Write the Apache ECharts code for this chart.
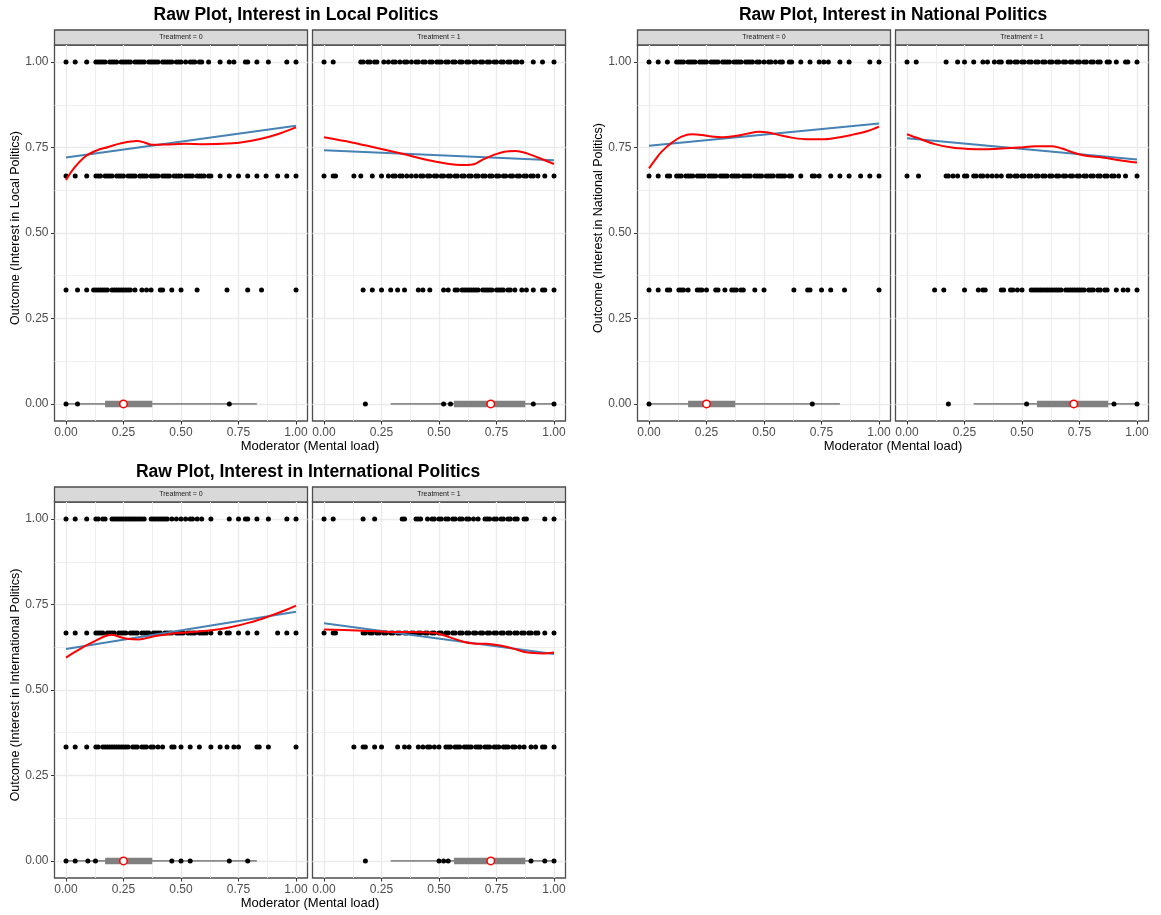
<!DOCTYPE html>
<html>
<head>
<meta charset="utf-8">
<script src="https://cdn.jsdelivr.net/npm/echarts@6/dist/echarts.min.js"></script>
<style>
html, body { margin: 0; background: #fff; }
#chart { width: 1161px; height: 915px; }
</style>
</head>
<body>
<div id="chart"></div>
<script>
// tick labels
const majorTicks = [0, 0.25, 0.5, 0.75, 1]
const minorTicks = [0.125, 0.375, 0.625, 0.875]
const treatments = ['Treatment = 0', 'Treatment = 1']

// moderator summaries (min, q1, median, q3, max)
const boxT0 = [0, 0.17, 0.25, 0.375, 0.83]
const boxT1 = [0.29, 0.565, 0.725, 0.875, 1]

// --- Local politics ---
const localT0Y100 = [0,0.04,0.09,0.13,0.14,0.15,0.16,0.17,0.19,0.2,0.21,0.22,0.24,0.25,0.26,0.27,0.28,0.3,0.31,0.32,0.33,0.34,0.36,0.37,0.38,0.39,0.4,0.42,0.43,0.44,0.45,0.46,0.48,0.49,0.5,0.52,0.54,0.55,0.56,0.58,0.59,0.62,0.67,0.71,0.73,0.78,0.79,0.83,0.88,0.96,1]
const localT0Y067 = [0,0.04,0.09,0.13,0.14,0.15,0.17,0.18,0.19,0.2,0.22,0.23,0.24,0.25,0.27,0.28,0.29,0.3,0.32,0.33,0.34,0.35,0.37,0.38,0.39,0.4,0.42,0.43,0.44,0.45,0.47,0.48,0.49,0.5,0.52,0.53,0.54,0.55,0.57,0.58,0.59,0.6,0.62,0.63,0.67,0.71,0.75,0.79,0.83,0.87,0.92,0.96,1]
const localT0Y033 = [0,0.05,0.09,0.12,0.13,0.14,0.15,0.16,0.17,0.18,0.2,0.21,0.22,0.23,0.24,0.25,0.26,0.27,0.28,0.3,0.33,0.35,0.37,0.41,0.42,0.46,0.5,0.57,0.7,0.79,0.85,1]
const localT0Y000 = [0,0.05,0.71]
const localT1Y100 = [0,0.04,0.16,0.17,0.19,0.2,0.22,0.23,0.26,0.28,0.3,0.31,0.33,0.35,0.36,0.38,0.4,0.41,0.43,0.44,0.46,0.47,0.49,0.5,0.51,0.53,0.54,0.56,0.57,0.59,0.6,0.62,0.63,0.65,0.66,0.68,0.69,0.71,0.72,0.74,0.75,0.77,0.78,0.8,0.81,0.83,0.84,0.86,0.91,0.95,1]
const localT1Y067 = [0,0.04,0.05,0.13,0.16,0.21,0.25,0.28,0.3,0.31,0.33,0.34,0.36,0.38,0.4,0.42,0.43,0.45,0.46,0.48,0.49,0.51,0.52,0.54,0.55,0.57,0.58,0.6,0.61,0.63,0.64,0.66,0.67,0.69,0.7,0.72,0.73,0.75,0.76,0.78,0.79,0.81,0.82,0.84,0.85,0.87,0.88,0.9,0.91,0.93,0.96,1]
const localT1Y033 = [0.17,0.21,0.25,0.29,0.32,0.35,0.41,0.43,0.46,0.52,0.54,0.57,0.58,0.6,0.61,0.62,0.63,0.64,0.65,0.66,0.67,0.69,0.7,0.71,0.72,0.73,0.75,0.76,0.77,0.78,0.8,0.81,0.83,0.86,0.88,0.91,0.95,0.96,1]
const localT1Y000 = [0.18,0.52,0.55,0.91,1]
const localFitT0 = [0.721, 0.814]
const localFitT1 = [0.742, 0.713]
const localLoessT0X = [0,0.035,0.084,0.132,0.18,0.244,0.309,0.341,0.373,0.437,0.518,0.598,0.678,0.759,0.839,0.92,1]
const localLoessT0Y = [0.655,0.69,0.724,0.741,0.751,0.763,0.769,0.765,0.758,0.759,0.761,0.76,0.761,0.765,0.774,0.789,0.809]
const localLoessT1X = [0,0.121,0.202,0.364,0.445,0.526,0.607,0.655,0.688,0.736,0.785,0.833,0.882,0.93,1]
const localLoessT1Y = [0.78,0.765,0.753,0.728,0.714,0.704,0.699,0.702,0.714,0.728,0.738,0.74,0.733,0.721,0.702]

// --- National politics ---
const nationalT0Y100 = [0,0.04,0.08,0.12,0.13,0.14,0.15,0.17,0.18,0.19,0.2,0.22,0.23,0.24,0.25,0.27,0.28,0.29,0.3,0.32,0.33,0.34,0.35,0.37,0.38,0.39,0.4,0.42,0.43,0.44,0.45,0.47,0.48,0.5,0.52,0.53,0.55,0.57,0.58,0.61,0.62,0.66,0.7,0.74,0.76,0.78,0.83,0.87,0.96,1]
const nationalT0Y067 = [0,0.04,0.08,0.09,0.12,0.13,0.14,0.16,0.17,0.18,0.19,0.21,0.22,0.23,0.24,0.26,0.27,0.28,0.29,0.31,0.32,0.33,0.34,0.36,0.37,0.38,0.39,0.41,0.42,0.43,0.44,0.46,0.47,0.48,0.49,0.51,0.52,0.53,0.54,0.56,0.57,0.58,0.59,0.61,0.62,0.66,0.71,0.72,0.74,0.79,0.83,0.87,0.92,0.96,1]
const nationalT0Y033 = [0,0.04,0.08,0.09,0.13,0.14,0.15,0.17,0.21,0.22,0.23,0.25,0.29,0.3,0.33,0.36,0.37,0.38,0.4,0.41,0.46,0.5,0.63,0.69,0.7,0.75,0.79,0.85,1]
const nationalT0Y000 = [0,0.71]
const nationalT1Y100 = [0,0.04,0.17,0.22,0.25,0.29,0.33,0.35,0.38,0.4,0.41,0.44,0.45,0.47,0.48,0.5,0.51,0.53,0.54,0.56,0.57,0.59,0.6,0.62,0.63,0.65,0.66,0.68,0.69,0.71,0.72,0.74,0.75,0.77,0.78,0.8,0.81,0.83,0.84,0.87,0.88,0.91,0.95,0.96,1]
const nationalT1Y067 = [0,0.05,0.17,0.18,0.2,0.22,0.25,0.26,0.29,0.3,0.32,0.33,0.35,0.37,0.39,0.41,0.44,0.45,0.47,0.48,0.5,0.51,0.53,0.54,0.56,0.57,0.59,0.6,0.62,0.63,0.65,0.66,0.68,0.69,0.71,0.72,0.74,0.75,0.77,0.78,0.8,0.81,0.83,0.84,0.86,0.87,0.89,0.9,0.92,0.95,1]
const nationalT1Y033 = [0.12,0.16,0.25,0.31,0.33,0.34,0.41,0.42,0.45,0.46,0.48,0.5,0.54,0.55,0.56,0.57,0.58,0.59,0.6,0.61,0.62,0.63,0.64,0.65,0.66,0.67,0.69,0.7,0.71,0.72,0.73,0.74,0.75,0.76,0.77,0.79,0.8,0.81,0.83,0.84,0.86,0.87,0.91,0.94,0.96,1]
const nationalT1Y000 = [0.18,0.52,0.9,1]
const nationalFitT0 = [0.755, 0.82]
const nationalFitT1 = [0.777, 0.715]
const nationalLoessT0X = [0,0.026,0.055,0.099,0.142,0.186,0.229,0.272,0.316,0.374,0.432,0.475,0.519,0.562,0.62,0.693,0.751,0.809,0.881,0.954,1]
const nationalLoessT0Y = [0.689,0.713,0.738,0.764,0.782,0.789,0.787,0.782,0.78,0.784,0.791,0.796,0.794,0.787,0.779,0.774,0.774,0.778,0.787,0.799,0.811]
const nationalLoessT1X = [0,0.049,0.122,0.195,0.268,0.341,0.413,0.486,0.559,0.632,0.675,0.719,0.777,0.85,0.923,1]
const nationalLoessT1Y = [0.789,0.777,0.76,0.75,0.746,0.745,0.747,0.75,0.754,0.754,0.747,0.736,0.726,0.721,0.713,0.706]

// --- International politics ---
const internationalT0Y100 = [0,0.04,0.09,0.13,0.14,0.16,0.17,0.2,0.21,0.22,0.23,0.24,0.25,0.26,0.27,0.28,0.29,0.3,0.31,0.32,0.33,0.34,0.37,0.38,0.39,0.4,0.41,0.42,0.43,0.44,0.46,0.48,0.5,0.52,0.54,0.55,0.57,0.59,0.63,0.71,0.75,0.78,0.79,0.83,0.88,0.96,1]
const internationalT0Y067 = [0,0.04,0.09,0.13,0.14,0.15,0.16,0.18,0.19,0.2,0.21,0.23,0.24,0.25,0.26,0.28,0.29,0.3,0.31,0.33,0.34,0.35,0.36,0.38,0.39,0.4,0.41,0.43,0.44,0.45,0.46,0.48,0.49,0.5,0.51,0.53,0.54,0.55,0.56,0.58,0.59,0.6,0.61,0.63,0.67,0.7,0.71,0.75,0.79,0.83,0.92,0.96,1]
const internationalT0Y033 = [0,0.04,0.09,0.13,0.14,0.16,0.17,0.18,0.19,0.2,0.21,0.22,0.23,0.24,0.25,0.26,0.27,0.29,0.3,0.31,0.33,0.34,0.35,0.37,0.38,0.4,0.42,0.46,0.47,0.5,0.54,0.58,0.63,0.67,0.7,0.73,0.75,0.83,0.84,0.88,1]
const internationalT0Y000 = [0,0.04,0.095,0.128,0.46,0.5,0.54,0.71,0.79]
const internationalT1Y100 = [0,0.04,0.17,0.22,0.34,0.35,0.4,0.41,0.42,0.45,0.47,0.48,0.5,0.51,0.53,0.54,0.56,0.57,0.59,0.6,0.62,0.63,0.65,0.67,0.7,0.71,0.72,0.74,0.75,0.77,0.78,0.8,0.81,0.83,0.84,0.87,0.88,0.96,1]
const internationalT1Y067 = [0,0.04,0.05,0.17,0.18,0.2,0.21,0.23,0.24,0.26,0.27,0.29,0.3,0.32,0.33,0.35,0.36,0.38,0.39,0.41,0.42,0.44,0.45,0.47,0.48,0.5,0.51,0.53,0.54,0.56,0.57,0.59,0.6,0.62,0.63,0.65,0.66,0.68,0.69,0.71,0.72,0.74,0.75,0.77,0.78,0.8,0.81,0.83,0.84,0.86,0.87,0.89,0.9,0.92,0.93,0.96,1]
const internationalT1Y033 = [0.13,0.17,0.18,0.22,0.25,0.32,0.35,0.37,0.41,0.43,0.45,0.46,0.48,0.5,0.53,0.54,0.55,0.57,0.58,0.59,0.61,0.62,0.63,0.64,0.66,0.67,0.68,0.7,0.71,0.72,0.74,0.75,0.76,0.78,0.79,0.8,0.82,0.83,0.85,0.87,0.9,0.92,0.95,0.96,1]
const internationalT1Y000 = [0.18,0.5,0.52,0.54,0.9,0.96,1]
const internationalFitT0 = [0.62, 0.729]
const internationalFitT1 = [0.695, 0.605]
const internationalLoessT0X = [0,0.041,0.084,0.128,0.172,0.2,0.23,0.273,0.317,0.375,0.448,0.535,0.622,0.709,0.797,0.884,0.956,1]
const internationalLoessT0Y = [0.595,0.612,0.629,0.644,0.658,0.662,0.656,0.649,0.648,0.656,0.664,0.669,0.674,0.683,0.697,0.716,0.734,0.747]
const internationalLoessT1X = [0,0.142,0.287,0.432,0.49,0.548,0.606,0.649,0.707,0.765,0.823,0.867,0.91,0.954,1]
const internationalLoessT1Y = [0.677,0.674,0.67,0.669,0.666,0.654,0.641,0.636,0.635,0.63,0.621,0.612,0.608,0.607,0.61]

const FONT = '"Liberation Sans", Arial, Helvetica, sans-serif'
const FACET_W = 253
const FACET_H = 376
const STRIP_H = 15

const panels = [
    {
        title: 'Raw Plot, Interest in Local Politics',
        yName: 'Outcome (Interest in Local Politics)',
        lefts: [54.5, 312.5], top: 45, titleX: 296, yNameX: 16,
        facets: [
            { rows: [[1, localT0Y100], [0.6667, localT0Y067], [0.3333, localT0Y033], [0, localT0Y000]], box: boxT0, fit: localFitT0, lx: localLoessT0X, ly: localLoessT0Y },
            { rows: [[1, localT1Y100], [0.6667, localT1Y067], [0.3333, localT1Y033], [0, localT1Y000]], box: boxT1, fit: localFitT1, lx: localLoessT1X, ly: localLoessT1Y },
        ],
    },
    {
        title: 'Raw Plot, Interest in National Politics',
        yName: 'Outcome (Interest in National Politics)',
        lefts: [637.5, 895.5], top: 45, titleX: 893, yNameX: 599,
        facets: [
            { rows: [[1, nationalT0Y100], [0.6667, nationalT0Y067], [0.3333, nationalT0Y033], [0, nationalT0Y000]], box: boxT0, fit: nationalFitT0, lx: nationalLoessT0X, ly: nationalLoessT0Y },
            { rows: [[1, nationalT1Y100], [0.6667, nationalT1Y067], [0.3333, nationalT1Y033], [0, nationalT1Y000]], box: boxT1, fit: nationalFitT1, lx: nationalLoessT1X, ly: nationalLoessT1Y },
        ],
    },
    {
        title: 'Raw Plot, Interest in International Politics',
        yName: 'Outcome (Interest in International Politics)',
        lefts: [54.5, 312.5], top: 502, titleX: 308, yNameX: 16,
        facets: [
            { rows: [[1, internationalT0Y100], [0.6667, internationalT0Y067], [0.3333, internationalT0Y033], [0, internationalT0Y000]], box: boxT0, fit: internationalFitT0, lx: internationalLoessT0X, ly: internationalLoessT0Y },
            { rows: [[1, internationalT1Y100], [0.6667, internationalT1Y067], [0.3333, internationalT1Y033], [0, internationalT1Y000]], box: boxT1, fit: internationalFitT1, lx: internationalLoessT1X, ly: internationalLoessT1Y },
        ],
    },
]

const grids = []
const xAxes = []
const yAxes = []
const series = []
const graphics = []

const valueAxis = (gridIndex, extra) => Object.assign({
    gridIndex,
    type: 'value',
    min: -0.05,
    max: 1.05,
    axisLine: { show: false, onZero: false },
}, extra)

const centred = { align: 'center', verticalAlign: 'middle', textAlign: 'center', textVerticalAlign: 'middle' }

panels.forEach((panel, p) => {
    const midX = (panel.lefts[0] + panel.lefts[1] + FACET_W) / 2
    graphics.push({
        type: 'text', x: panel.titleX, y: panel.top - 30,
        style: Object.assign({ text: panel.title, font: 'bold 17.5px ' + FONT, fill: '#000' }, centred),
    })
    graphics.push({
        type: 'text', x: midX, y: panel.top + FACET_H + 25,
        style: Object.assign({ text: 'Moderator (Mental load)', font: '13px ' + FONT, fill: '#000' }, centred),
    })
    graphics.push({
        type: 'text', x: panel.yNameX, y: panel.top + FACET_H / 2 - 5, rotation: Math.PI / 2,
        style: Object.assign({ text: panel.yName, font: '12.5px ' + FONT, fill: '#000' }, centred),
    })

    panel.facets.forEach((facet, t) => {
        const g = p * 2 + t
        const left = panel.lefts[t]
        grids.push({
            left, top: panel.top, width: FACET_W, height: FACET_H,
            show: true, borderColor: '#4d4d4d', borderWidth: 1.3, backgroundColor: '#ffffff',
            containLabel: false, outerBoundsMode: 'none',
        })
        graphics.push({
            type: 'rect', shape: { x: left, y: panel.top - STRIP_H, width: FACET_W, height: STRIP_H },
            style: { fill: '#d9d9d9', stroke: '#4d4d4d', lineWidth: 1.3 },
        })
        graphics.push({
            type: 'text', x: left + FACET_W / 2, y: panel.top - STRIP_H / 2,
            style: Object.assign({ text: treatments[t], font: '7px ' + FONT, fill: '#1a1a1a' }, centred),
        })

        // major + minor x axes
        xAxes.push(valueAxis(g, {
            position: 'bottom',
            axisTick: { show: true, customValues: majorTicks, length: 3.5, lineStyle: { color: '#333333', width: 1 } },
            axisLabel: { customValues: majorTicks, formatter: v => v.toFixed(2), color: '#4d4d4d', fontSize: 12, fontFamily: FONT, margin: 6 },
            splitLine: { show: true, lineStyle: { color: '#ebebeb', width: 1.4 } },
        }))
        xAxes.push(valueAxis(g, {
            position: 'top',
            axisTick: { show: false, customValues: minorTicks },
            axisLabel: { show: false, customValues: minorTicks },
            splitLine: { show: true, lineStyle: { color: '#ebebeb', width: 0.8 } },
        }))
        // major + minor y axes
        yAxes.push(valueAxis(g, {
            position: 'left',
            axisTick: { show: t === 0, customValues: majorTicks, length: 3.5, lineStyle: { color: '#333333', width: 1 } },
            axisLabel: { show: t === 0, customValues: majorTicks, formatter: v => v.toFixed(2), color: '#4d4d4d', fontSize: 12, fontFamily: FONT, margin: 6 },
            splitLine: { show: true, lineStyle: { color: '#ebebeb', width: 1.4 } },
        }))
        yAxes.push(valueAxis(g, {
            position: 'right',
            axisTick: { show: false, customValues: minorTicks },
            axisLabel: { show: false, customValues: minorTicks },
            splitLine: { show: true, lineStyle: { color: '#ebebeb', width: 0.8 } },
        }))

        const axisRef = { xAxisIndex: g * 2, yAxisIndex: g * 2 }
        const points = []
        facet.rows.forEach(([level, xs]) => xs.forEach(x => points.push([x, level])))
        // moderator interval first, observations on top of it
        series.push(Object.assign({
            type: 'line', data: [[facet.box[0], 0], [facet.box[4], 0]], symbol: 'none',
            lineStyle: { color: '#8a8a8a', width: 1.8 }, z: 2, silent: true,
        }, axisRef))
        series.push(Object.assign({
            type: 'line', data: [[facet.box[1], 0], [facet.box[3], 0]], symbol: 'none',
            lineStyle: { color: '#808080', width: 6.5, cap: 'butt' }, z: 2, silent: true,
        }, axisRef))
        series.push(Object.assign({
            type: 'scatter', data: points, symbolSize: 5,
            itemStyle: { color: '#000000', opacity: 1 }, z: 3, silent: true,
        }, axisRef))
        series.push(Object.assign({
            type: 'scatter', data: [[facet.box[2], 0]], symbolSize: 7.5,
            itemStyle: { color: '#ffffff', borderColor: '#ff0000', borderWidth: 1.5, opacity: 1 }, z: 4, silent: true,
        }, axisRef))
        series.push(Object.assign({
            type: 'line', data: [[0, facet.fit[0]], [1, facet.fit[1]]], symbol: 'none',
            lineStyle: { color: '#4682b4', width: 2 }, z: 5, silent: true,
        }, axisRef))
        series.push(Object.assign({
            type: 'line', data: facet.lx.map((x, i) => [x, facet.ly[i]]), symbol: 'none', smooth: 0.35,
            lineStyle: { color: '#ff0000', width: 2 }, z: 6, silent: true,
        }, axisRef))
    })
})

const chart = echarts.init(document.getElementById('chart'), null, { renderer: 'canvas' })
chart.setOption({
    animation: false,
    backgroundColor: '#ffffff',
    grid: grids,
    xAxis: xAxes,
    yAxis: yAxes,
    series,
    graphic: { elements: graphics },
})
</script>
</body>
</html>
